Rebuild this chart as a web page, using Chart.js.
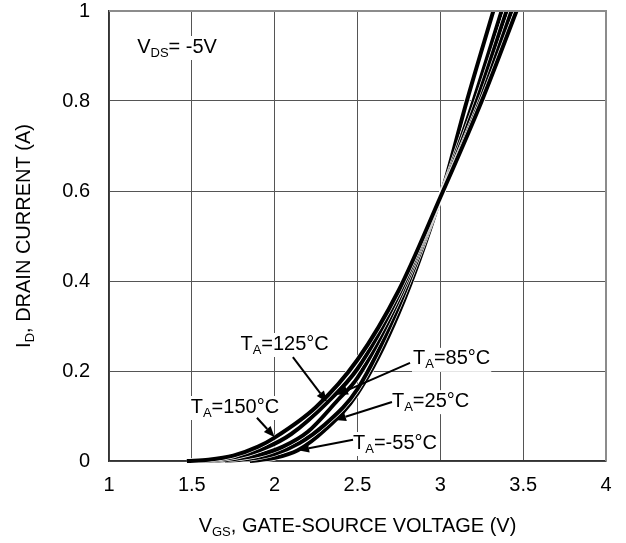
<!DOCTYPE html>
<html>
<head>
<meta charset="utf-8">
<script src="https://cdn.jsdelivr.net/npm/chart.js@4.4.1/dist/chart.umd.min.js"></script>
<style>
html,body{margin:0;padding:0;background:#fff}
</style>
</head>
<body>
<canvas id="canvas" width="626" height="543"></canvas>
<script>
// ticks
let vgsTicks=[1,1.5,2,2.5,3,3.5,4]
let idTicks=[0,0.2,0.4,0.6,0.8,1]

// transfer curves, one pair of arrays per temperature
let vgs150=[1.47,1.6,1.75,1.9,2.0,2.25,2.5,2.75,3.0,3.25,3.46]
let id150=[0,0.003,0.012,0.032,0.052,0.12,0.225,0.38,0.586,0.80,1.0]
let vgs125=[1.52,1.65,1.8,1.95,2.1,2.32,2.5,2.75,3.0,3.24,3.43]
let id125=[0,0.003,0.012,0.03,0.06,0.131,0.205,0.37,0.586,0.80,1.0]
let vgs85=[1.6,1.75,1.9,2.05,2.2,2.38,2.5,2.75,3.0,3.22,3.40]
let id85=[0,0.004,0.013,0.032,0.065,0.135,0.185,0.36,0.586,0.80,1.0]
let vgs25=[1.7,1.85,2.0,2.15,2.3,2.5,2.75,3.0,3.2,3.37]
let id25=[0,0.005,0.016,0.04,0.08,0.16,0.345,0.586,0.80,1.0]
let vgsM55=[1.85,2.0,2.14,2.3,2.5,2.75,3.0,3.16,3.32]
let idM55=[0,0.007,0.024,0.068,0.15,0.33,0.586,0.80,1.0]

let FONT='"Liberation Sans", Arial, sans-serif'
let FS=20
let SUB=13

function pts(xs,ys){
    return xs.map((x,i)=>({x:x,y:ys[i]}))
}
function curve(label,xs,ys){
    return {
        label:label,
        data:pts(xs,ys),
        borderColor:'#000',
        borderWidth:4,
        pointRadius:0,
        cubicInterpolationMode:'monotone',
        fill:false,
        clip:{left:5,top:0,right:5,bottom:5}
    }
}

// label parts: [text, isSubscript]
let notes=[
    {parts:[['V',0],['DS',1],['= -5V',0]],x:1.17,y:0.92,align:'left'},
    {parts:[['T',0],['A',1],['=125°C',0]],x:2.06,y:0.26,align:'center',from:[2.11,0.231],to:[2.316,0.131]},
    {parts:[['T',0],['A',1],['=85°C',0]],x:2.835,y:0.227,align:'left',from:[2.817,0.218],to:[2.376,0.147]},
    {parts:[['T',0],['A',1],['=25°C',0]],x:2.708,y:0.133,align:'left',from:[2.708,0.131],to:[2.364,0.091]},
    {parts:[['T',0],['A',1],['=150°C',0]],x:1.76,y:0.12,align:'center',from:[1.893,0.096],to:[2.0,0.053]},
    {parts:[['T',0],['A',1],['=-55°C',0]],x:2.473,y:0.04,align:'left',from:[2.473,0.047],to:[2.141,0.024]}
]

function partsWidth(ctx,parts){
    let w=0
    parts.forEach(p=>{
        ctx.font=(p[1]?SUB:FS)+'px '+FONT
        w+=ctx.measureText(p[0]).width
    })
    return w
}
function drawParts(ctx,parts,x,y,align,bg){
    let w=partsWidth(ctx,parts)
    let left=align=='center'?x-w/2:x
    if(bg){
        ctx.fillStyle='#fff'
        ctx.fillRect(left-1,y-FS/2-1,w+2,FS+4)
    }
    ctx.fillStyle='#000'
    ctx.textBaseline='middle'
    ctx.textAlign='left'
    parts.forEach(p=>{
        ctx.font=(p[1]?SUB:FS)+'px '+FONT
        ctx.fillText(p[0],left,p[1]?y+6:y)
        left+=ctx.measureText(p[0]).width
    })
}
function arrow(ctx,x1,y1,x2,y2){
    let a=Math.atan2(y2-y1,x2-x1)
    let L=11,W=4.5
    let bx=x2-L*Math.cos(a),by=y2-L*Math.sin(a)
    ctx.strokeStyle='#000'
    ctx.lineWidth=2
    ctx.beginPath()
    ctx.moveTo(x1,y1)
    ctx.lineTo(bx,by)
    ctx.stroke()
    ctx.fillStyle='#000'
    ctx.beginPath()
    ctx.moveTo(x2,y2)
    ctx.lineTo(bx+W*Math.sin(a),by-W*Math.cos(a))
    ctx.lineTo(bx-W*Math.sin(a),by+W*Math.cos(a))
    ctx.closePath()
    ctx.fill()
}

let extras={
    id:'extras',
    beforeDatasetDraw(chart,args){
        // white halo under each curve so neighbouring curves stay apart
        let el=args.meta.dataset
        let o=el.options
        let a=chart.chartArea
        let bw=o.borderWidth,bc=o.borderColor
        let ctx=chart.ctx
        ctx.save()
        ctx.beginPath()
        ctx.rect(a.left-5,a.top,a.right-a.left+10,a.bottom-a.top+5)
        ctx.clip()
        o.borderWidth=bw+1.3
        o.borderColor='#fff'
        el.draw(ctx,a)
        o.borderWidth=bw
        o.borderColor=bc
        ctx.restore()
    },
    afterDraw(chart){
        let ctx=chart.ctx
        let xs=chart.scales.x,ys=chart.scales.y
        let a=chart.chartArea
        ctx.save()
        // grey top and right frame edges
        ctx.strokeStyle='#8c8c8c'
        ctx.lineWidth=2
        ctx.beginPath()
        ctx.moveTo(a.left,a.top)
        ctx.lineTo(a.right,a.top)
        ctx.lineTo(a.right,a.bottom)
        ctx.stroke()
        notes.forEach(n=>{
            drawParts(ctx,n.parts,xs.getPixelForValue(n.x),ys.getPixelForValue(n.y),n.align,true)
            if(n.from){
                arrow(ctx,xs.getPixelForValue(n.from[0]),ys.getPixelForValue(n.from[1]),
                    xs.getPixelForValue(n.to[0]),ys.getPixelForValue(n.to[1]))
            }
        })
        // axis titles (with subscripts)
        let xt=[['V',0],['GS',1],[', GATE-SOURCE VOLTAGE (V)',0]]
        drawParts(ctx,xt,(a.left+a.right)/2,526,'center',false)
        let yt=[['I',0],['D',1],[', DRAIN CURRENT (A)',0]]
        ctx.translate(24,(a.top+a.bottom)/2)
        ctx.rotate(-Math.PI/2)
        drawParts(ctx,yt,0,0,'center',false)
        ctx.restore()
    }
}

let canvas=document.getElementById('canvas')
new Chart(canvas,{
    type:'line',
    data:{
        datasets:[
            curve('150',vgs150,id150),
            curve('125',vgs125,id125),
            curve('85',vgs85,id85),
            curve('25',vgs25,id25),
            curve('-55',vgsM55,idM55)
        ]
    },
    options:{
        responsive:false,
        animation:false,
        devicePixelRatio:1,
        layout:{padding:{left:0,right:20,top:11,bottom:0}},
        plugins:{legend:{display:false},tooltip:{enabled:false}},
        scales:{
            x:{
                type:'linear',
                min:1,max:4,
                afterBuildTicks:s=>{s.ticks=vgsTicks.map(v=>({value:v}))},
                afterFit:s=>{s.height=82},
                ticks:{font:{family:FONT,size:FS,lineHeight:1},color:'#000',padding:0,maxRotation:0,callback:v=>String(v)},
                grid:{color:'#555',lineWidth:1,drawTicks:true,tickLength:14,tickColor:'rgba(0,0,0,0)'},
                border:{color:'#333',width:1.5}
            },
            y:{
                min:0,max:1,
                afterBuildTicks:s=>{s.ticks=idTicks.map(v=>({value:v}))},
                afterFit:s=>{s.width=109},
                ticks:{font:{family:FONT,size:FS,lineHeight:1},color:'#000',padding:0,callback:v=>String(v)},
                grid:{color:'#555',lineWidth:1,drawTicks:true,tickLength:19,tickColor:'rgba(0,0,0,0)'},
                border:{color:'#333',width:1.5}
            }
        }
    },
    plugins:[extras]
})
</script>
</body>
</html>
